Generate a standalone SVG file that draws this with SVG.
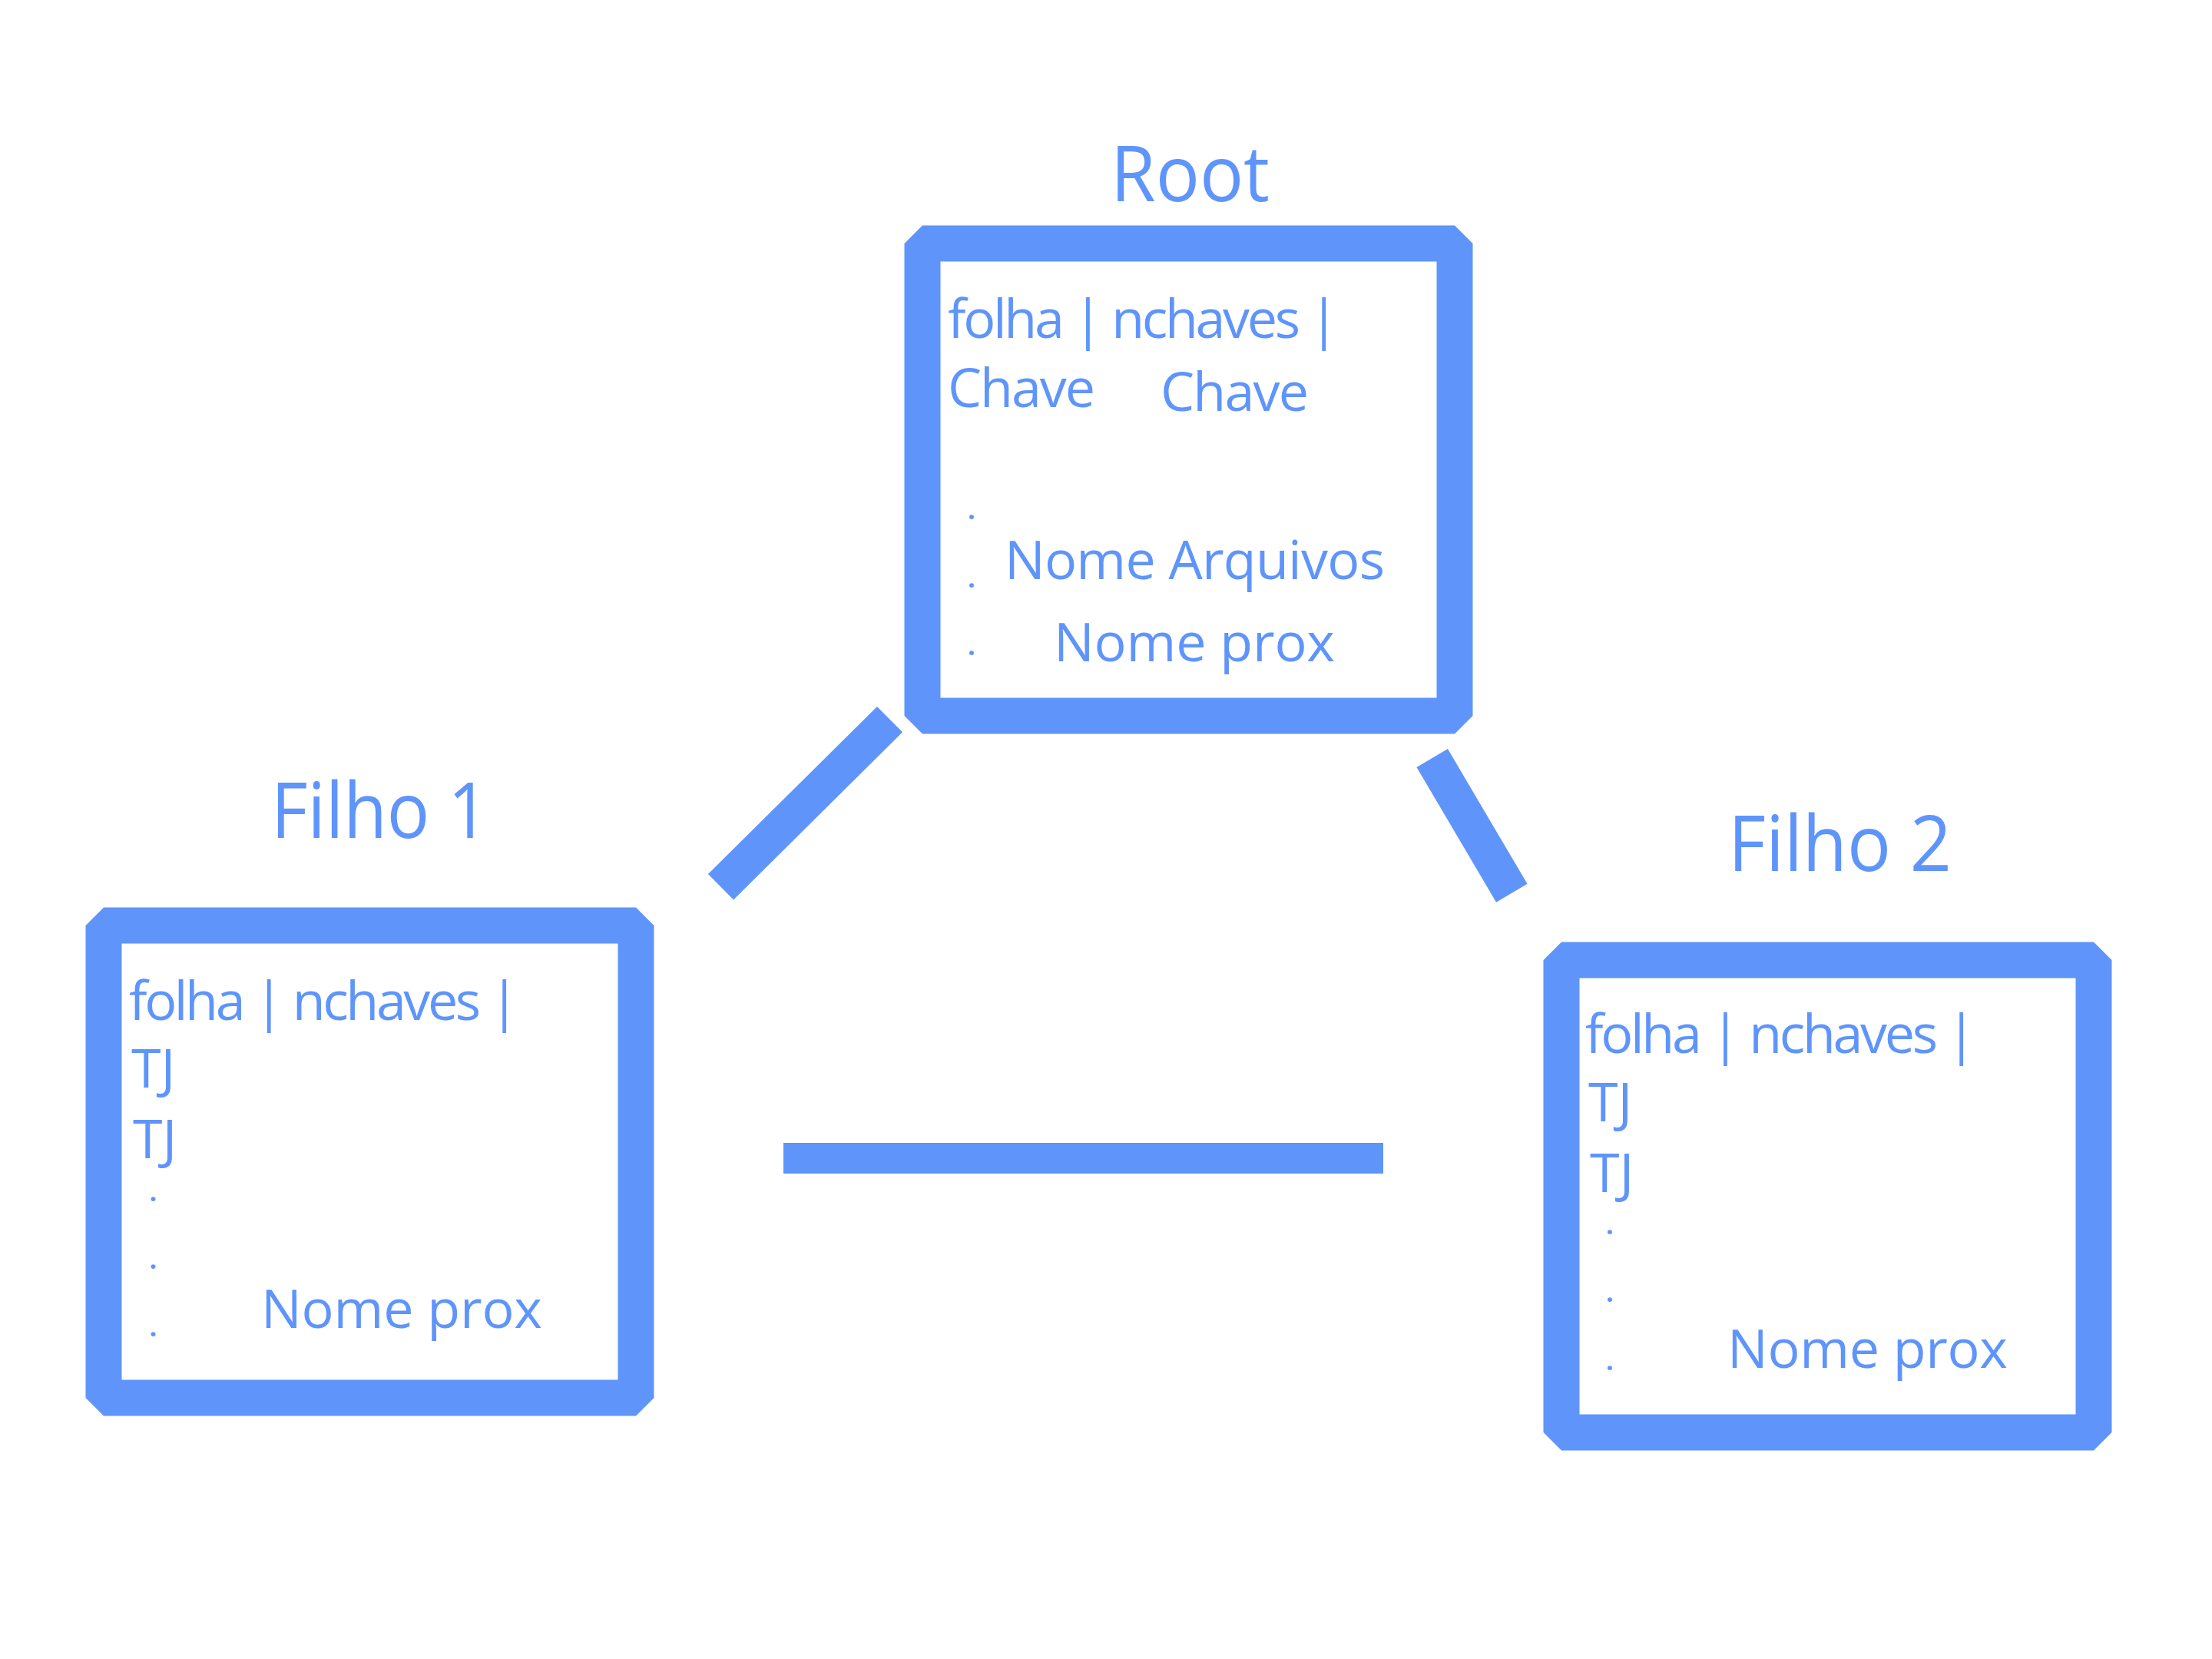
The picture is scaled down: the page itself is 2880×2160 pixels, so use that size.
<svg xmlns="http://www.w3.org/2000/svg" width="2880" height="2160" viewBox="0 0 2880 2160">
<style>
.box{fill:#ffffff;stroke:#5F95FB;stroke-width:47;stroke-linejoin:bevel}
.t{font-family:"Open Sans","Noto Sans","DejaVu Sans",sans-serif;fill:#5F95FB;font-size:70px}
.title{font-family:"Open Sans","Noto Sans","DejaVu Sans",sans-serif;fill:#5F95FB;font-size:100px}
.dot{font-family:"Open Sans","Noto Sans","DejaVu Sans",sans-serif;fill:#5F95FB;font-size:34px;font-weight:700}
.conn{stroke:#5F95FB;stroke-width:47;stroke-linecap:butt;fill:none}
</style>
<rect width="2880" height="2160" fill="#ffffff"/>
<g id="connectors">
<line class="conn" x1="1158.5" y1="936.6" x2="938.5" y2="1154.8"/>
<line class="conn" x1="1864.7" y1="987" x2="1968.3" y2="1162.8"/>
<line class="conn" x1="1020" y1="1508" x2="1801" y2="1508" style="stroke-width:40"/>
</g>
<g id="root">
<text class="title" x="1446" y="262" textLength="207" lengthAdjust="spacingAndGlyphs">Root</text>
<rect class="box" x="1201" y="317" width="693" height="615"/>
<text class="t" x="1234" y="440" textLength="509" lengthAdjust="spacing">folha | nchaves |</text>
<text class="t" x="1234" y="530" textLength="192" lengthAdjust="spacing">Chave</text>
<text class="t" x="1511" y="535" textLength="193" lengthAdjust="spacing">Chave</text>
<text class="dot" x="1260" y="676">.</text>
<text class="dot" x="1260" y="765">.</text>
<text class="dot" x="1260" y="853">.</text>
<text class="t" x="1308" y="754" textLength="495" lengthAdjust="spacing">Nome Arquivos</text>
<text class="t" x="1372" y="861" textLength="366" lengthAdjust="spacing">Nome prox</text>
</g>
<g id="filho1">
<text class="title" x="353" y="1091" textLength="283" lengthAdjust="spacingAndGlyphs">Filho 1</text>
<rect class="box" x="135" y="1205" width="693" height="615"/>
<text class="t" x="168" y="1328" textLength="508" lengthAdjust="spacing">folha | nchaves |</text>
<text class="t" x="171" y="1416">TJ</text>
<text class="t" x="173" y="1508">TJ</text>
<text class="dot" x="194.5" y="1564">.</text>
<text class="dot" x="194.5" y="1652">.</text>
<text class="dot" x="194.5" y="1740">.</text>
<text class="t" x="340" y="1729" textLength="366" lengthAdjust="spacing">Nome prox</text>
</g>
<g id="filho2">
<text class="title" x="2250" y="1134" textLength="291" lengthAdjust="spacingAndGlyphs">Filho 2</text>
<rect class="box" x="2033" y="1250" width="693" height="615"/>
<text class="t" x="2064" y="1371" textLength="509" lengthAdjust="spacing">folha | nchaves |</text>
<text class="t" x="2068" y="1460">TJ</text>
<text class="t" x="2070" y="1552">TJ</text>
<text class="dot" x="2091" y="1607">.</text>
<text class="dot" x="2091" y="1695">.</text>
<text class="dot" x="2091" y="1784">.</text>
<text class="t" x="2249" y="1781" textLength="365" lengthAdjust="spacing">Nome prox</text>
</g>
</svg>
